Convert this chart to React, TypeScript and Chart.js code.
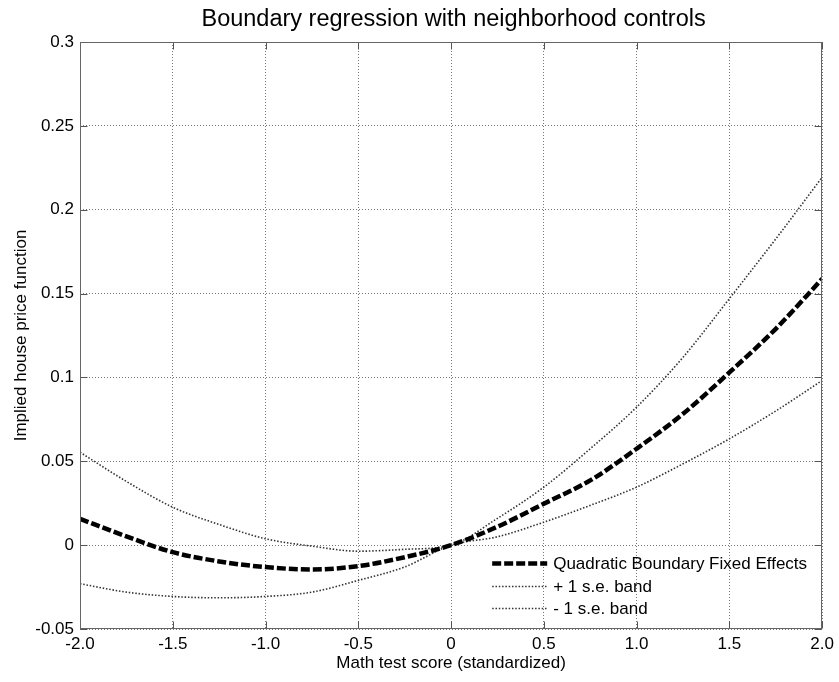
import React, { useEffect, useRef } from "react";
import { Chart, registerables } from "chart.js";

Chart.register(...registerables);

const xValues = [-2, -1.75, -1.5, -1.25, -1, -0.75, -0.5, -0.25, 0, 0.25, 0.5, 0.75, 1, 1.25, 1.5, 1.75, 2];
const fixedEffects = [0.0157, 0.0052, -0.0042, -0.0097, -0.0131, -0.0145, -0.0125, -0.0072, 0, 0.011, 0.0247, 0.0386, 0.0575, 0.0783, 0.103, 0.129, 0.1588];
const upperBand = [0.0554, 0.038, 0.0226, 0.0123, 0.0038, -0.0006, -0.0036, -0.0025, 0, 0.016, 0.0346, 0.0575, 0.0823, 0.112, 0.147, 0.1826, 0.2194];
const lowerBand = [-0.023, -0.028, -0.0306, -0.0314, -0.0306, -0.028, -0.021, -0.013, 0, 0.005, 0.0137, 0.0237, 0.0346, 0.0485, 0.0634, 0.08, 0.0982];

const xTickValues = [-2, -1.5, -1, -0.5, 0, 0.5, 1, 1.5, 2];
const xTickLabels = ["-2.0", "-1.5", "-1.0", "-0.5", "0", "0.5", "1.0", "1.5", "2.0"];
const yTickValues = [-0.05, 0, 0.05, 0.1, 0.15, 0.2, 0.25, 0.3];
const yTickLabels = ["-0.05", "0", "0.05", "0.1", "0.15", "0.2", "0.25", "0.3"];

const seriesLabels = ["Quadratic Boundary Fixed Effects", "+ 1 s.e. band", "- 1 s.e. band"];
const titleText = "Boundary regression with neighborhood controls";
const xTitle = "Math test score (standardized)";
const yTitle = "Implied house price function";

const FONT = "'Liberation Sans', Arial, Helvetica, sans-serif";

const matlabPlugin = {
  id: "matlabAxes",
  afterDraw(chart: any) {
    const { ctx, chartArea: a, scales } = chart;
    ctx.save();
    const L = Math.round(a.left) + 0.5;
    const R = Math.round(a.right) - 0.5;
    const T = Math.round(a.top) + 0.5;
    const B = Math.round(a.bottom) - 0.5;
    const tl = 7;
    ctx.strokeStyle = "#555";
    ctx.lineWidth = 1;
    ctx.setLineDash([]);
    ctx.beginPath();
    xTickValues.forEach((v) => {
      const px = Math.round(scales.x.getPixelForValue(v)) + 0.5;
      ctx.moveTo(px, B);
      ctx.lineTo(px, B - tl);
      ctx.moveTo(px, T);
      ctx.lineTo(px, T + tl);
    });
    yTickValues.forEach((v) => {
      const py = Math.round(scales.y.getPixelForValue(v)) + 0.5;
      ctx.moveTo(L, py);
      ctx.lineTo(L + tl, py);
      ctx.moveTo(R, py);
      ctx.lineTo(R - tl, py);
    });
    ctx.stroke();
    ctx.strokeStyle = "#666";
    ctx.strokeRect(L, T, R - L, B - T);

    // title
    ctx.fillStyle = "#000";
    ctx.font = `23.5px ${FONT}`;
    ctx.textAlign = "center";
    ctx.textBaseline = "middle";
    ctx.fillText(titleText, (a.left + a.right) / 2 + 2.5, 20);

    // legend
    const rowY = [a.bottom - 66, a.bottom - 43, a.bottom - 21];
    const x0 = a.right - 330;
    const x1 = a.right - 275;
    ctx.font = `17px ${FONT}`;
    ctx.textAlign = "left";
    chart.data.datasets.forEach((ds: any, i: number) => {
      ctx.save();
      ctx.strokeStyle = ds.borderColor;
      ctx.lineWidth = ds.borderWidth;
      ctx.setLineDash(ds.borderDash || []);
      ctx.lineCap = "butt";
      ctx.beginPath();
      ctx.moveTo(x0, Math.round(rowY[i]) + 0.5);
      ctx.lineTo(x1, Math.round(rowY[i]) + 0.5);
      ctx.stroke();
      ctx.restore();
      ctx.fillStyle = "#000";
      ctx.fillText(ds.label, a.right - 269, rowY[i] + 1);
    });
    ctx.restore();
  },
};

export default function App() {
  const ref = useRef<HTMLCanvasElement | null>(null);
  useEffect(() => {
    if (!ref.current) return;
    const mk = (ys: number[]) => xValues.map((x, i) => ({ x, y: ys[i] }));
    const chart = new Chart(ref.current, {
      type: "line",
      data: {
        datasets: [
          {
            label: seriesLabels[0],
            data: mk(fixedEffects),
            borderColor: "#000",
            borderWidth: 4.5,
            borderDash: [9, 3],
            borderCapStyle: "butt",
            pointRadius: 0,
            cubicInterpolationMode: "monotone",
          },
          {
            label: seriesLabels[1],
            data: mk(upperBand),
            borderColor: "#333",
            borderWidth: 1.6,
            borderDash: [1.5, 1.8],
            borderCapStyle: "butt",
            pointRadius: 0,
            cubicInterpolationMode: "monotone",
          },
          {
            label: seriesLabels[2],
            data: mk(lowerBand),
            borderColor: "#333",
            borderWidth: 1.6,
            borderDash: [1.5, 1.8],
            borderCapStyle: "butt",
            pointRadius: 0,
            cubicInterpolationMode: "monotone",
          },
        ],
      },
      options: {
        animation: false,
        responsive: false,
        events: [],
        layout: { padding: { top: 42, right: 16, left: 0, bottom: 0 } },
        plugins: {
          legend: { display: false },
          title: { display: false },
          tooltip: { enabled: false },
        },
        scales: {
          x: {
            type: "linear",
            min: -2,
            max: 2,
            afterBuildTicks: (s: any) => {
              s.ticks = xTickValues.map((v) => ({ value: v }));
            },
            afterFit: (s: any) => {
              s.height = 53;
            },
            ticks: {
              autoSkip: false,
              maxRotation: 0,
              padding: 5,
              color: "#000",
              font: { family: FONT, size: 17 },
              callback: (v: any) => xTickLabels[xTickValues.indexOf(Number(v))] ?? "",
            },
            grid: { color: "#777", lineWidth: 1, drawTicks: false },
            border: { display: false, dash: [1, 2] },
            title: {
              display: true,
              text: xTitle,
              color: "#000",
              font: { family: FONT, size: 17 },
              padding: { top: 0, bottom: 8 },
            },
          },
          y: {
            type: "linear",
            min: -0.05,
            max: 0.3,
            afterBuildTicks: (s: any) => {
              s.ticks = yTickValues.map((v) => ({ value: v }));
            },
            afterFit: (s: any) => {
              s.width = 80;
            },
            ticks: {
              autoSkip: false,
              padding: 6,
              color: "#000",
              font: { family: FONT, size: 17 },
              callback: (v: any) => {
                const idx = yTickValues.findIndex((t) => Math.abs(t - Number(v)) < 1e-9);
                return idx >= 0 ? yTickLabels[idx] : "";
              },
            },
            grid: { color: "#777", lineWidth: 1, drawTicks: false },
            border: { display: false, dash: [1, 2] },
            title: {
              display: true,
              text: yTitle,
              color: "#000",
              font: { family: FONT, size: 17 },
              padding: { top: 11, bottom: 0 },
            },
          },
        },
      },
      plugins: [matlabPlugin],
    } as any);
    return () => chart.destroy();
  }, []);
  return (
    <div style={{ position: "absolute", left: 0, top: 0, width: 839, height: 682, background: "#fff" }}>
      <canvas ref={ref} width={839} height={682} style={{ display: "block" }} />
    </div>
  );
}
